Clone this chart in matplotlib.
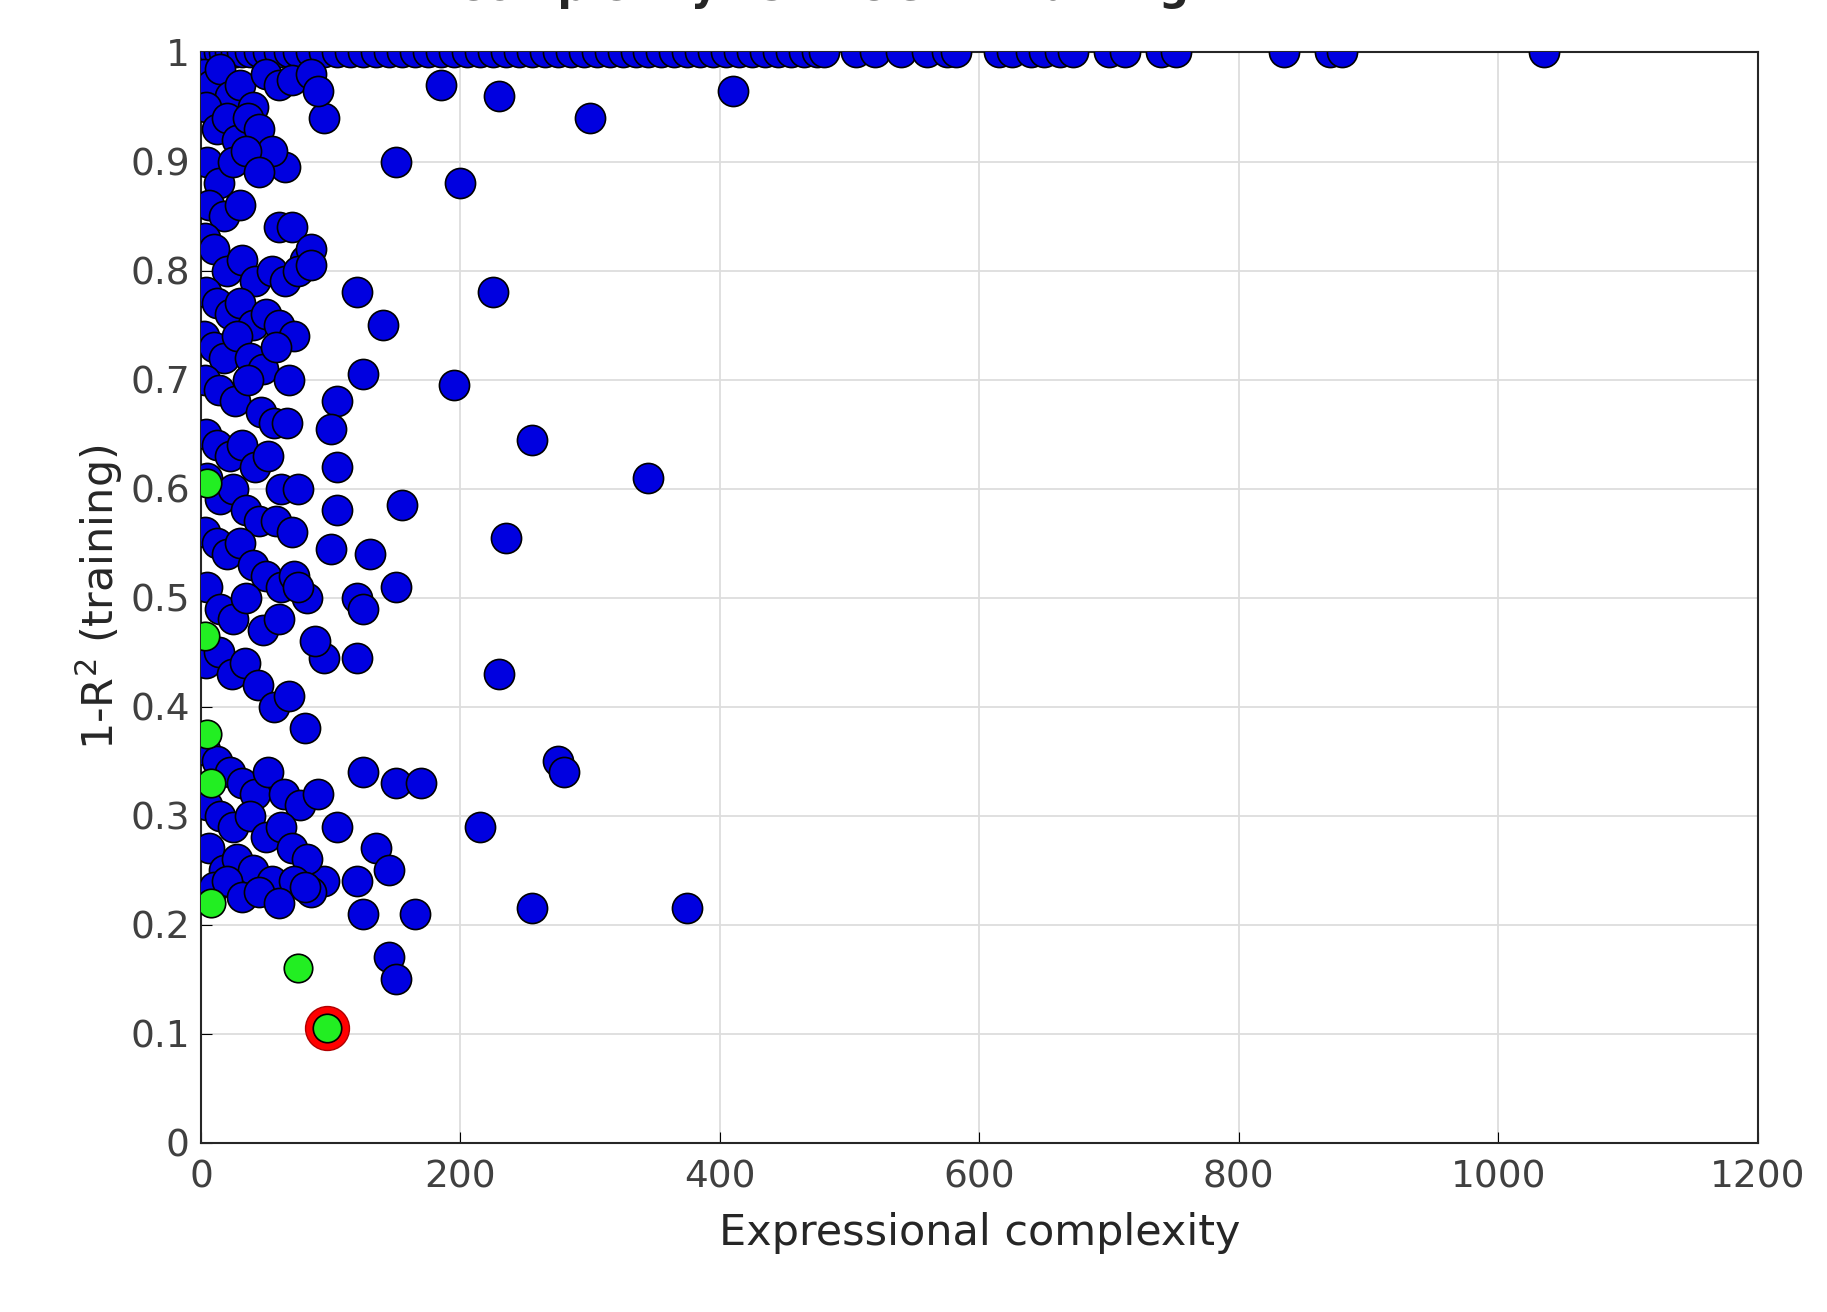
import matplotlib.pyplot as plt

# top row: models at 1-R^2 = 1
top_x = [0, 3, 6, 10, 14, 18, 22, 27, 32, 38, 45, 52, 60, 68, 75, 85, 95, 105, 115, 125,
         135, 145, 155, 165, 175, 185, 195, 205, 215, 225, 235, 245, 255, 265, 275, 285,
         295, 305, 315, 325, 335, 345, 355, 365, 375, 385, 395, 405, 415, 425, 435, 445,
         455, 465, 475, 480, 505, 520, 540, 560, 575, 582, 615, 625, 640, 650, 662, 672,
         700, 712, 740, 752, 835, 870, 880, 1035]
top_y = [1.0] * len(top_x)

# scattered models away from the axis (complexity, 1-R^2)
scattered = [(185, 0.97), (230, 0.96), (300, 0.94), (410, 0.965), (95, 0.94), (150, 0.90),
             (200, 0.88), (65, 0.895), (120, 0.78), (225, 0.78), (140, 0.75), (125, 0.705),
             (195, 0.695), (105, 0.68), (100, 0.655), (255, 0.645), (105, 0.62), (345, 0.61),
             (155, 0.585), (105, 0.58), (235, 0.555), (130, 0.54), (100, 0.545), (150, 0.51),
             (120, 0.50), (125, 0.49), (120, 0.445), (230, 0.43), (95, 0.445), (275, 0.35),
             (280, 0.34), (125, 0.34), (150, 0.33), (170, 0.33), (215, 0.29), (105, 0.29),
             (135, 0.27), (145, 0.25), (125, 0.21), (165, 0.21), (255, 0.215), (375, 0.215),
             (145, 0.17), (150, 0.15), (95, 0.24), (120, 0.24)]

# dense cluster near the y axis
cluster = [(2, 0.98), (8, 0.97), (15, 0.985), (22, 0.96), (30, 0.97), (40, 0.95), (50, 0.98),
           (60, 0.97), (70, 0.975), (85, 0.98), (90, 0.965),
           (4, 0.95), (12, 0.93), (20, 0.94), (28, 0.92), (36, 0.94), (45, 0.93), (55, 0.91),
           (5, 0.90), (14, 0.88), (25, 0.90), (35, 0.91), (45, 0.89), (6, 0.86), (18, 0.85),
           (30, 0.86), (60, 0.84), (70, 0.84), (80, 0.81), (85, 0.82),
           (3, 0.83), (10, 0.82), (20, 0.80), (32, 0.81), (42, 0.79), (55, 0.80), (65, 0.79),
           (75, 0.80), (85, 0.805), (4, 0.78), (12, 0.77), (22, 0.76), (30, 0.77), (40, 0.75),
           (50, 0.76), (60, 0.75), (72, 0.74),
           (2, 0.74), (10, 0.73), (18, 0.72), (28, 0.74), (38, 0.72), (48, 0.71), (58, 0.73),
           (68, 0.70), (3, 0.70), (14, 0.69), (26, 0.68), (36, 0.70), (46, 0.67), (56, 0.66),
           (66, 0.66), (4, 0.65), (12, 0.64), (22, 0.63), (32, 0.64), (42, 0.62), (52, 0.63),
           (62, 0.60), (75, 0.60), (5, 0.61), (15, 0.59), (25, 0.60), (35, 0.58), (45, 0.57),
           (58, 0.57), (70, 0.56), (3, 0.56), (12, 0.55), (20, 0.54), (30, 0.55), (40, 0.53),
           (50, 0.52), (62, 0.51), (72, 0.52), (82, 0.50), (5, 0.51), (15, 0.49), (25, 0.48),
           (35, 0.50), (48, 0.47), (60, 0.48), (75, 0.51), (88, 0.46), (4, 0.44), (14, 0.45),
           (24, 0.43), (34, 0.44), (44, 0.42), (56, 0.40), (68, 0.41), (80, 0.38),
           (3, 0.36), (12, 0.35), (22, 0.34), (32, 0.33), (42, 0.32), (52, 0.34), (64, 0.32),
           (76, 0.31), (90, 0.32), (5, 0.31), (15, 0.30), (25, 0.29), (38, 0.30), (50, 0.28),
           (62, 0.29), (70, 0.27), (82, 0.26), (6, 0.27), (18, 0.25), (28, 0.26), (40, 0.25),
           (55, 0.24), (72, 0.24), (85, 0.23), (10, 0.235), (20, 0.24), (32, 0.225),
           (45, 0.23), (60, 0.22), (80, 0.235)]

# Pareto front models
green_x = [5, 3, 5, 8, 8, 75, 97]
green_y = [0.605, 0.465, 0.375, 0.33, 0.22, 0.16, 0.105]
best_x = [97]
best_y = [0.105]

blue_x = top_x + [p[0] for p in scattered + cluster]
blue_y = top_y + [p[1] for p in scattered + cluster]

fig = plt.figure(figsize=(18.27, 13.12), dpi=100)
ax = fig.add_axes([0.11, 0.129, 0.852, 0.831])

ax.scatter(best_x, best_y, s=1000, c='red', edgecolors='#b00000', zorder=2)
ax.scatter(blue_x, blue_y, s=470, c='#0000e0', edgecolors='black', linewidths=1.2, zorder=3)
ax.scatter(green_x, green_y, s=420, c='#22ee22', edgecolors='black', linewidths=1.2, zorder=4)

ax.set_xlim(0, 1200)
ax.set_ylim(0, 1)
ax.set_xticks(range(0, 1201, 200))
ax.set_yticks([i / 10 for i in range(11)])
ax.set_yticklabels(['0', '0.1', '0.2', '0.3', '0.4', '0.5', '0.6', '0.7', '0.8', '0.9', '1'])
ax.grid(True, color='#dddddd', linewidth=1.3)
ax.set_axisbelow(True)
ax.tick_params(labelsize=27, labelcolor='#404040', direction='in', length=8)
ax.tick_params(axis='x', pad=12)
ax.tick_params(axis='y', pad=8)
for sp in ax.spines.values():
    sp.set_color('#262626')
    sp.set_linewidth(1.5)

ax.set_xlabel('Expressional complexity', fontsize=31, color='#262626', labelpad=12)
ax.set_ylabel('1-R$^2$ (training)', fontsize=31, color='#262626')
fig.text(0.45, 0.993, 'Complexity vs. MOGP - training', fontsize=30, ha='center',
         va='bottom', fontweight='bold', color='#262626')

fig.savefig('out.png', dpi=100)
